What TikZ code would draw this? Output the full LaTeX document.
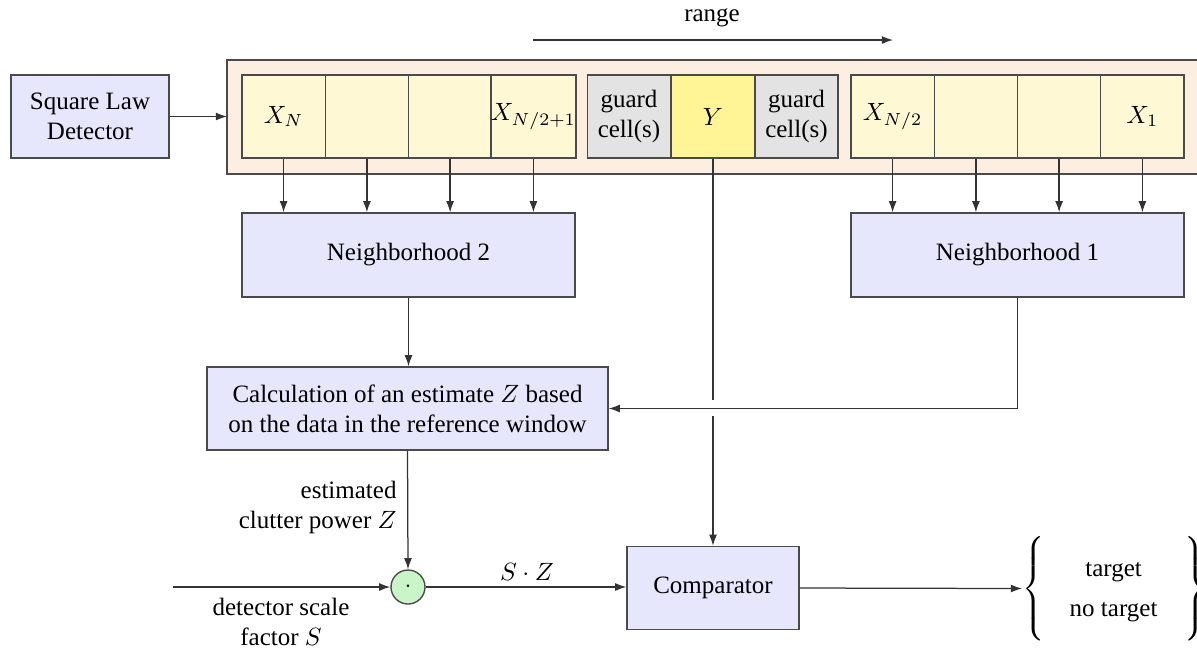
\documentclass[tikz,border=0pt]{standalone}
\usepackage{fontspec}
\setmainfont{Liberation Serif}
\usetikzlibrary{arrows.meta}
\definecolor{peach}{HTML}{FDEEE2}
\definecolor{cellc}{HTML}{FFF8D5}
\definecolor{ycell}{HTML}{FFF597}
\definecolor{guardc}{HTML}{E3E3E3}
\definecolor{boxc}{HTML}{E6E6FC}
\definecolor{circc}{HTML}{C9F5C9}
\definecolor{edge}{HTML}{4A4A4A}
\tikzset{
  blk/.style={draw=edge, line width=0.55pt, fill=boxc, align=center, inner sep=0pt},
  cellbox/.style={draw=edge, line width=0.55pt, fill=cellc, minimum width=33.3pt, minimum height=33.2pt, inner sep=0pt, align=center},
  guardbox/.style={cellbox, fill=guardc},
  ybox/.style={cellbox, fill=ycell},
  conn/.style={draw=black!80, line width=0.5pt},
  arr/.style={conn, -{Latex[length=4.5pt,width=3.2pt]}},
  lbl/.style={inner sep=0pt, align=center}
}
\begin{document}
\begin{tikzpicture}[x=0.4pt,y=-0.4pt, font=\fontsize{10}{12}\selectfont]
\useasboundingbox (0,0) rectangle (1197,649);
% outer window
\path[draw=edge, line width=0.55pt, fill=peach] (227,60) rectangle (1215,174);
% range arrow
\coordinate (r1) at (533,40);
\coordinate (r2) at (893,40);
\draw[arr] (r1) -- (r2);
\node[lbl] (range) at (712,18) {range};
% square law detector
\node[blk, minimum width=63.2pt, minimum height=33.2pt] (sld) at (90,116.5) {Square Law\\Detector};
% cells left group
\node[cellbox] (c1) at (283.6,116.5) {$X_N$};
\node[cellbox] (c2) at (366.9,116.5) {};
\node[cellbox] (c3) at (450.1,116.5) {};
\node[cellbox] (c4) at (533.4,116.5) {$X_{N/2+1}$};
% guard and test cells
\node[guardbox] (g1) at (629,116.5) {guard\\cell(s)};
\node[ybox] (y) at (713,116.5) {$Y$};
\node[guardbox] (g2) at (796.5,116.5) {guard\\cell(s)};
% cells right group
\node[cellbox] (d1) at (892.6,116.5) {$X_{N/2}$};
\node[cellbox] (d2) at (975.9,116.5) {};
\node[cellbox] (d3) at (1059.1,116.5) {};
\node[cellbox] (d4) at (1142.4,116.5) {$X_1$};
\draw[arr] (sld.east) -- (sld.east -| 227,0);
% neighborhoods
\node[blk, minimum width=133.2pt, minimum height=33.6pt] (nb2) at (408.5,255) {Neighborhood 2};
\node[blk, minimum width=133.2pt, minimum height=33.6pt] (nb1) at (1017.5,255) {Neighborhood 1};
\foreach \c in {c1,c2,c3,c4}{\draw[arr] (\c.south) -- (\c.south |- nb2.north);}
\foreach \c in {d1,d2,d3,d4}{\draw[arr] (\c.south) -- (\c.south |- nb1.north);}
% calculation
\node[blk, minimum width=160.4pt, minimum height=33.2pt] (calc) at (407.5,408.5) {Calculation of an estimate $Z$ based\\on the data in the reference window};
\draw[arr] (nb2.south) -- (nb2.south |- calc.north);
\draw[arr] (nb1.south) |- (calc.east);
% multiplier
\node[draw=edge, line width=0.55pt, fill=circc, circle, minimum size=13.6pt, inner sep=0pt] (mul) at (408,587) {$\cdot$};
\draw[arr] (calc.south) -- (mul.north);
\node[lbl, align=right, anchor=east] (estl) at (397,507) {estimated\\clutter power $Z$};
\coordinate (sin) at (173,587);
\draw[arr] (sin) -- (mul.west);
\node[lbl] (sl) at (281,622) {detector scale\\factor $S$};
% comparator
\node[blk, minimum width=68.8pt, minimum height=33.2pt] (comp) at (713,588) {Comparator};
\draw[arr] (mul.east) -- (mul.east -| comp.west);
\node[lbl] (szl) at (527,572) {$S\cdot Z$};
% Y line with gap
\coordinate (gapA) at (713,400);
\coordinate (gapB) at (713,416);
\draw[conn] (y.south) -- (gapA);
\draw[arr] (gapB) -- (comp.north);
% output
\node[lbl, anchor=west] (out) at (1022,588.5) {$\left\{\rule[-17.5pt]{0pt}{40pt}\renewcommand{\arraystretch}{1.33}\begin{tabular}{@{\hspace{10pt}}c@{\hspace{11pt}}}target\\no target\end{tabular}\right\}$};
\draw[arr] (comp.east) -- (out.west);
\end{tikzpicture}
\end{document}
